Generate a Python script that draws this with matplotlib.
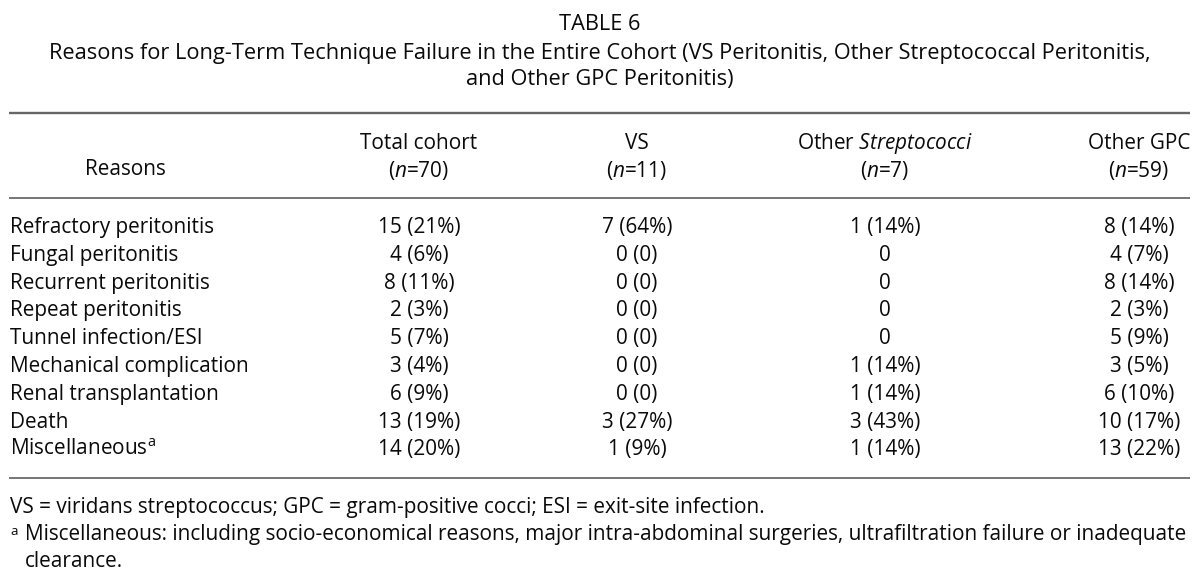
import matplotlib
matplotlib.use("Agg")
import matplotlib.pyplot as plt

plt.rcParams['font.family'] = ['Open Sans', 'DejaVu Sans']
plt.rcParams['mathtext.fontset'] = 'custom'
plt.rcParams['mathtext.rm'] = 'Open Sans'
plt.rcParams['mathtext.it'] = 'Open Sans:italic'

# table content
title = "TABLE 6"
subtitle = ["Reasons for Long-Term Technique Failure in the Entire Cohort (VS Peritonitis, Other Streptococcal Peritonitis,",
            "and Other GPC Peritonitis)"]
col_names = ["Total cohort", "VS", r"Other $\mathit{Streptococci}$", "Other GPC"]
col_n = [70, 11, 7, 59]
reasons = ["Refractory peritonitis", "Fungal peritonitis", "Recurrent peritonitis",
           "Repeat peritonitis", "Tunnel infection/ESI", "Mechanical complication",
           "Renal transplantation", "Death", r"Miscellaneous$^{\mathrm{a}}$"]
total_cohort = ["15 (21%)", "4 (6%)", "8 (11%)", "2 (3%)", "5 (7%)", "3 (4%)", "6 (9%)", "13 (19%)", "14 (20%)"]
vs = ["7 (64%)", "0 (0)", "0 (0)", "0 (0)", "0 (0)", "0 (0)", "0 (0)", "3 (27%)", "1 (9%)"]
other_strep = ["1 (14%)", "0", "0", "0", "0", "1 (14%)", "1 (14%)", "3 (43%)", "1 (14%)"]
other_gpc = ["8 (14%)", "4 (7%)", "8 (14%)", "2 (3%)", "5 (9%)", "3 (5%)", "6 (10%)", "10 (17%)", "13 (22%)"]
footnotes = ["VS = viridans streptococcus; GPC = gram-positive cocci; ESI = exit-site infection.",
             "Miscellaneous: including socio-economical reasons, major intra-abdominal surgeries, ultrafiltration failure or inadequate",
             "clearance."]

# layout (pixel coordinates)
TXT = '#0a0a0a'
col_x = [419, 637, 885, 1139]
left, right = 9, 1190
row0, row_step = 233, 27.8

fig = plt.figure(figsize=(12, 5.8), dpi=100)
ax = fig.add_axes([0, 0, 1, 1])
ax.set_xlim(0, 1200)
ax.set_ylim(580, 0)
ax.axis('off')
renderer = fig.canvas.get_renderer()


def fit_size(s, target_px):
    # font size at which s is target_px wide
    probe = ax.text(0, 0, s, fontsize=14)
    w = probe.get_window_extent(renderer).width
    probe.remove()
    return 14 * target_px / w


FS_T = fit_size(subtitle[0], 1106)
FS = fit_size(footnotes[1], 1165)

ax.text(600, 30, title, ha='center', va='baseline', fontsize=FS_T, color=TXT)
for i, line in enumerate(subtitle):
    ax.text(600, 59 + 26 * i, line, ha='center', va='baseline', fontsize=FS_T, color=TXT)

# rules
ax.plot([left, right], [113, 113], color='#666666', lw=1.7, solid_capstyle='butt')
ax.plot([left, right], [197.5, 197.5], color='#505050', lw=1.1, solid_capstyle='butt')
ax.plot([left, right], [478, 478], color='#505050', lw=1.1, solid_capstyle='butt')

# header
ax.text(125, 175, "Reasons", ha='center', va='baseline', fontsize=FS, color=TXT)
for x, name, n in zip(col_x, col_names, col_n):
    ax.text(x, 149, name, ha='center', va='baseline', fontsize=FS, color=TXT)
    ax.text(x, 177, r"($\mathit{n}$=%d)" % n, ha='center', va='baseline', fontsize=FS, color=TXT)

# body
for i, reason in enumerate(reasons):
    y = row0 + i * row_step
    ax.text(10, y, reason, ha='left', va='baseline', fontsize=FS, color=TXT)
    for x, col in zip(col_x, [total_cohort, vs, other_strep, other_gpc]):
        ax.text(x, y, col[i], ha='center', va='baseline', fontsize=FS, color=TXT)

# footnotes
ax.text(10, 513, footnotes[0], ha='left', va='baseline', fontsize=FS, color=TXT)
ax.text(10, 535, "a", ha='left', va='baseline', fontsize=FS * 0.65, color=TXT)
ax.text(25, 540, footnotes[1], ha='left', va='baseline', fontsize=FS, color=TXT)
ax.text(25, 567, footnotes[2], ha='left', va='baseline', fontsize=FS, color=TXT)

fig.savefig("out.png", dpi=100, facecolor='white')
